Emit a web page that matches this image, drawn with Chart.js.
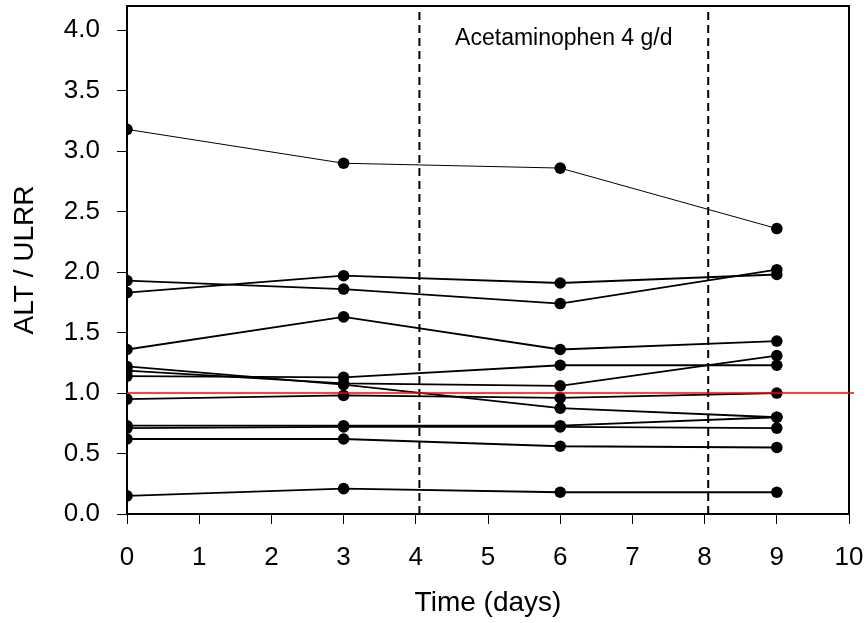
<!DOCTYPE html>
<html>
<head>
<meta charset="utf-8">
<script src="https://cdn.jsdelivr.net/npm/chart.js@4"></script>
<style>
  html, body { margin: 0; padding: 0; background: #fff; }
</style>
</head>
<body>
<canvas id="altChart" width="868" height="623"></canvas>
<script>
// sampling days
const days = [0, 3, 6, 9];

// ALT / ULRR per patient
const patient1 = [3.18, 2.90, 2.86, 2.36];
const patient2 = [1.93, 1.86, 1.74, 2.02];
const patient3 = [1.83, 1.97, 1.91, 1.98];
const patient4 = [1.36, 1.63, 1.36, 1.43];
const patient5 = [1.14, 1.13, 1.23, 1.23];
const patient6 = [1.22, 1.07, 0.875, 0.80];
const patient7 = [1.185, 1.08, 1.06, 1.31];
const patient8 = [0.95, 0.98, 0.96, 1.00];
const patient9 = [0.73, 0.73, 0.73, 0.80];
const patient10 = [0.71, 0.72, 0.72, 0.71];
const patient11 = [0.62, 0.62, 0.56, 0.55];
const patient12 = [0.15, 0.21, 0.18, 0.18];

const patients = [patient1, patient2, patient3, patient4, patient5, patient6,
    patient7, patient8, patient9, patient10, patient11, patient12];

// upper limit of reference range
const ulrr = 1.0;
const ulrrEnd = 10.07;

// dosing period boundaries
const dosingBounds = [4.05, 8.05];
const annotationText = "Acetaminophen 4 g/d";
const annotationPos = [6.05, 3.88];

const xTicks = [0, 1, 2, 3, 4, 5, 6, 7, 8, 9, 10];
const yTicks = [0, 0.5, 1.0, 1.5, 2.0, 2.5, 3.0, 3.5, 4.0];
const yMax = 4.2;

const FONT = "'Liberation Sans', Arial, sans-serif";

const datasets = [];

patients.forEach((vals, idx) => {
    datasets.push({
        data: days.map((d, i) => ({ x: d, y: vals[i] })),
        borderColor: "#000",
        backgroundColor: "#000",
        borderWidth: idx == 0 ? 1 : 1.8,
        pointRadius: 5.8,
        pointBorderWidth: 0,
        pointBackgroundColor: "#000",
        order: 1
    });
});

datasets.push({
    data: [{ x: 0, y: ulrr }, { x: ulrrEnd, y: ulrr }],
    borderColor: "#ff0000",
    borderWidth: 1.5,
    pointRadius: 0,
    clip: false,
    order: 0
});

dosingBounds.forEach(b => {
    datasets.push({
        data: [{ x: b, y: 0 }, { x: b, y: yMax }],
        borderColor: "#000",
        borderWidth: 2,
        borderDash: [8, 5],
        pointRadius: 0,
        order: 2
    });
});

const framePlugin = {
    id: "frame",
    beforeDatasetsDraw(chart) {
        const { ctx, chartArea } = chart;
        ctx.save();
        ctx.strokeStyle = "#000";
        ctx.lineWidth = 2;
        ctx.beginPath();
        ctx.moveTo(chartArea.left, chartArea.top);
        ctx.lineTo(chartArea.right, chartArea.top);
        ctx.lineTo(chartArea.right, chartArea.bottom);
        ctx.stroke();
        ctx.restore();
    },
    afterDatasetsDraw(chart) {
        const { ctx, scales } = chart;
        ctx.save();
        ctx.fillStyle = "#000";
        ctx.font = "23px " + FONT;
        ctx.textAlign = "center";
        ctx.textBaseline = "alphabetic";
        ctx.fillText(annotationText, scales.x.getPixelForValue(annotationPos[0]),
            scales.y.getPixelForValue(annotationPos[1]));
        ctx.restore();
    }
};

const ctx = document.getElementById("altChart").getContext("2d");
const altChart = new Chart(ctx, {
    type: "line",
    data: { datasets: datasets },
    options: {
        responsive: false,
        animation: false,
        layout: { padding: { top: 6, right: 19, left: 0, bottom: 0 } },
        plugins: { legend: { display: false }, tooltip: { enabled: false } },
        scales: {
            x: {
                type: "linear",
                min: 0,
                max: 10,
                afterBuildTicks: scale => { scale.ticks = xTicks.map(v => ({ value: v })); },
                afterFit: scale => {
                    scale.height = 109;
                    scale.paddingLeft = 0;
                    scale.paddingRight = 0;
                },
                ticks: {
                    color: "#000",
                    padding: 18,
                    font: { family: FONT, size: 26 },
                    callback: v => String(v)
                },
                grid: { drawOnChartArea: false, drawTicks: true, tickLength: 10, color: "#000", lineWidth: 1 },
                border: { display: true, color: "#000", width: 2 },
                title: {
                    display: true,
                    text: "Time (days)",
                    color: "#000",
                    font: { family: FONT, size: 28 },
                    padding: { top: 0, bottom: 3 }
                }
            },
            y: {
                type: "linear",
                min: 0,
                max: yMax,
                afterBuildTicks: scale => { scale.ticks = yTicks.map(v => ({ value: v })); },
                afterFit: scale => {
                    scale.width = 127;
                    scale.paddingTop = 0;
                    scale.paddingBottom = 0;
                },
                ticks: {
                    color: "#000",
                    padding: 17,
                    font: { family: FONT, size: 26 },
                    callback: v => Number(v).toFixed(1)
                },
                grid: { drawOnChartArea: false, drawTicks: true, tickLength: 10, color: "#000", lineWidth: 1 },
                border: { display: true, color: "#000", width: 2 },
                title: {
                    display: true,
                    text: "ALT / ULRR",
                    color: "#000",
                    font: { family: FONT, size: 28 },
                    padding: { top: 8, bottom: 0 }
                }
            }
        }
    },
    plugins: [framePlugin]
});
</script>
</body>
</html>
